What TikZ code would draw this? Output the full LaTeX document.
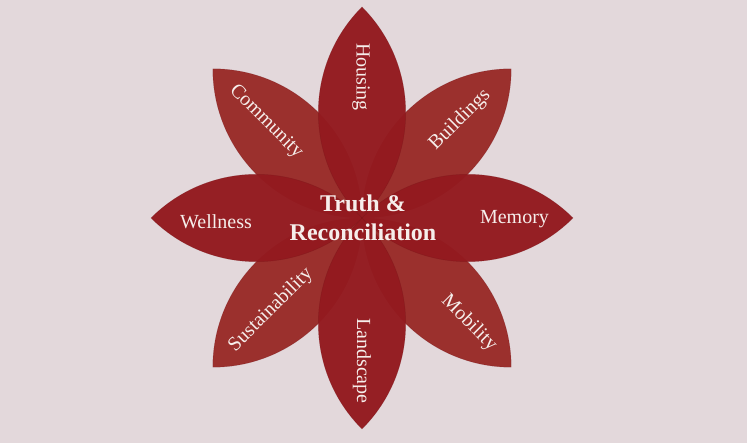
\documentclass[tikz,border=0pt]{standalone}
\usepackage{fontspec}
\setmainfont{Liberation Serif}
\definecolor{bgc}{HTML}{E3D8DB}
\definecolor{diagc}{HTML}{9B302D}
\definecolor{mainc}{HTML}{931A1F}
\definecolor{edgec}{HTML}{6E1014}
\definecolor{txtc}{HTML}{F6EEEB}
\tikzset{
  pics/petal/.style={code={
    \path[pic actions] (0,0) arc[start angle=135,end angle=45,radius=149.2]
      arc[start angle=-45,end angle=-135,radius=149.2] -- cycle;}},
  diagpetal/.style={fill=diagc,draw=edgec,draw opacity=0.3,line width=0.5pt},
  mainpetal/.style={fill=mainc,fill opacity=0.97,draw=edgec,draw opacity=0.3,line width=0.5pt},
  lbl/.style={text=txtc,font=\fontsize{20}{24}\selectfont,inner sep=0pt},
  ctr/.style={text=txtc,font=\fontsize{24}{29}\selectfont\bfseries,align=center,inner sep=0pt}
}
\begin{document}
\begin{tikzpicture}[x=1pt,y=1pt]
\fill[bgc] (0,0) rectangle (747,443);
\useasboundingbox (0,0) rectangle (747,443);
\coordinate (c) at (362,225);
% diagonal petals
\pic[diagpetal,rotate=135] at (c) {petal};
\pic[diagpetal,rotate=45] at (c) {petal};
\pic[diagpetal,rotate=225] at (c) {petal};
\pic[diagpetal,rotate=-45] at (c) {petal};
% main petals
\pic[mainpetal,rotate=90] at (c) {petal};
\pic[mainpetal,rotate=-90] at (c) {petal};
\pic[mainpetal,rotate=180] at (c) {petal};
\pic[mainpetal,rotate=0] at (c) {petal};
% labels
\node[ctr] (tr) at (363,225) {Truth \&\\Reconciliation};
\node[lbl,rotate=-90] (housing) at (361,366) {Housing};
\node[lbl,rotate=-90] (landscape) at (362,82) {Landscape};
\node[lbl] (wellness) at (216,221) {Wellness};
\node[lbl] (memory) at (514.5,224) {Memory};
\node[lbl,rotate=-45] (community) at (266,321) {Community};
\node[lbl,rotate=45] (buildings) at (460,323) {Buildings};
\node[lbl,rotate=45] (sustain) at (271,133) {Sustainability};
\node[lbl,rotate=-45] (mobility) at (469,120) {Mobility};
\end{tikzpicture}
\end{document}
